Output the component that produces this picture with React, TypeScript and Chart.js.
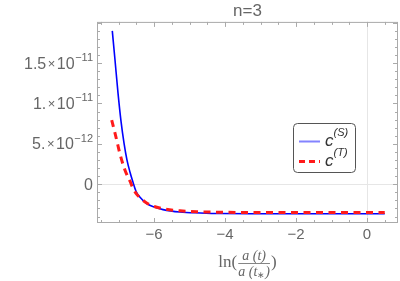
import React, { useEffect, useRef } from 'react';
import { Chart, registerables } from 'chart.js';

Chart.register(...registerables);

const blueX = [-7.175, -7.099, -7.014, -6.93, -6.845, -6.761, -6.676, -6.592, -6.507, -6.394, -6.197, -5.972, -5.746, -5.268, -4.7, -4.14, -3.0, -1.5, 0.5];
const blueY = [18.98e-12, 15.38e-12, 11.29e-12, 7.82e-12, 5.09e-12, 2.98e-12, 1.49e-12, 0.25e-12, -0.87e-12, -1.61e-12, -2.42e-12, -2.85e-12, -3.14e-12, -3.44e-12, -3.56e-12, -3.63e-12, -3.65e-12, -3.66e-12, -3.66e-12];
const redX = [-7.192, -7.127, -7.051, -6.986, -6.91, -6.817, -6.732, -6.676, -6.592, -6.507, -6.394, -6.197, -5.972, -5.746, -5.268, -4.7, -4.14, -3.0, -1.5, 0.5];
const redY = [7.94e-12, 6.82e-12, 5.46e-12, 4.22e-12, 2.98e-12, 1.74e-12, 0.87e-12, 0.37e-12, -0.5e-12, -1.12e-12, -1.67e-12, -2.36e-12, -2.79e-12, -3.04e-12, -3.29e-12, -3.41e-12, -3.47e-12, -3.49e-12, -3.49e-12, -3.49e-12];

const xTicks = [-6, -4, -2, 0];
const yTicks = [0, 5e-12, 1e-11, 1.5e-11];
const yTickMantissa = ['0', '5.', '1.', '1.5'];
const yTickExp = ['', '−12', '−11', '−11'];
const titleText = 'n=3';
const seriesBase = ['c', 'c'];
const seriesSup = ['(S)', '(T)'];

const FONT = '"Liberation Sans", Arial, sans-serif';
const SERIF = '"Liberation Serif", "Times New Roman", serif';
const GRAY = '#666666';
const BLUE = '#0000ff';
const RED = '#ff1a1a';

const decorPlugin = {
  id: 'decor',
  afterDraw(chart: any) {
    const { ctx, chartArea: a, scales } = chart;
    const xs = scales.x;
    const ys = scales.y;
    ctx.save();
    // frame
    ctx.strokeStyle = '#aaaaaa';
    ctx.lineWidth = 1;
    ctx.strokeRect(a.left + 0.5, a.top + 0.5, a.right - a.left - 1, a.bottom - a.top - 1);
    // x ticks (bottom & top)
    ctx.beginPath();
    for (let k = -15; k <= 1; k++) {
      const v = k * 0.5;
      const px = Math.round(xs.getPixelForValue(v)) + 0.5;
      if (px < a.left || px > a.right) continue;
      const len = k % 4 === 0 ? 5 : 3;
      ctx.moveTo(px, a.bottom);
      ctx.lineTo(px, a.bottom - len);
      ctx.moveTo(px, a.top);
      ctx.lineTo(px, a.top + len);
    }
    // y ticks (left & right)
    for (let k = -4; k <= 20; k++) {
      const v = k * 1e-12;
      const py = Math.round(ys.getPixelForValue(v)) + 0.5;
      if (py < a.top || py > a.bottom) continue;
      const len = k % 5 === 0 ? 5 : 3;
      ctx.moveTo(a.left, py);
      ctx.lineTo(a.left + len, py);
      ctx.moveTo(a.right, py);
      ctx.lineTo(a.right - len, py);
    }
    ctx.stroke();

    // y tick labels with superscripts
    ctx.fillStyle = GRAY;
    ctx.textBaseline = 'alphabetic';
    const mainFont = `16px ${FONT}`;
    const timesFont = `13px ${FONT}`;
    const supFont = `11px ${FONT}`;
    for (let i = 0; i < yTicks.length; i++) {
      const py = ys.getPixelForValue(yTicks[i]);
      const base = py + 5.5;
      let xr = a.left - 4;
      if (yTickExp[i]) {
        ctx.font = supFont;
        const we = ctx.measureText(yTickExp[i]).width;
        ctx.fillText(yTickExp[i], xr - we, base - 7.5);
        xr -= we + 0.5;
        ctx.font = mainFont;
        const w10 = ctx.measureText('10').width;
        ctx.fillText('10', xr - w10, base);
        xr -= w10 + 1.5;
        ctx.font = timesFont;
        const wt = ctx.measureText('×').width;
        ctx.fillText('×', xr - wt, base - 1);
        xr -= wt + 1.5;
      }
      ctx.font = mainFont;
      const wm = ctx.measureText(yTickMantissa[i]).width;
      ctx.fillText(yTickMantissa[i], xr - wm, base);
    }

    // x-axis title: ln( a(t) / a(t*) )
    const cx = (a.left + a.right) / 2;
    ctx.fillStyle = GRAY;
    ctx.font = `17px ${SERIF}`;
    const wLn = ctx.measureText('ln(').width;
    const wClose = ctx.measureText(')').width;
    ctx.font = `italic 14px ${SERIF}`;
    const wNum = ctx.measureText('a (t)').width;
    const wDenA = ctx.measureText('a (t').width;
    const wDenB = ctx.measureText(')').width;
    ctx.font = `9px ${SERIF}`;
    const wStar = ctx.measureText('∗').width;
    const wDen = wDenA + wStar + wDenB;
    const wFrac = Math.max(wNum, wDen) + 2;
    const total = wLn + wFrac + wClose;
    let x0 = cx - total / 2;
    const barY = 263.5;
    ctx.font = `17px ${SERIF}`;
    ctx.fillText('ln(', x0, barY + 3);
    x0 += wLn;
    ctx.font = `italic 14px ${SERIF}`;
    ctx.fillText('a (t)', x0 + (wFrac - wNum) / 2, barY - 4);
    const dx = x0 + (wFrac - wDen) / 2;
    ctx.fillText('a (t', dx, barY + 12);
    ctx.font = `9px ${SERIF}`;
    ctx.fillText('∗', dx + wDenA, barY + 14);
    ctx.font = `italic 14px ${SERIF}`;
    ctx.fillText(')', dx + wDenA + wStar, barY + 12);
    ctx.strokeStyle = GRAY;
    ctx.lineWidth = 0.8;
    ctx.beginPath();
    ctx.moveTo(x0 + 1, barY);
    ctx.lineTo(x0 + wFrac - 1, barY);
    ctx.stroke();
    ctx.font = `17px ${SERIF}`;
    ctx.fillText(')', x0 + wFrac, barY + 3);

    // legend
    const lx = 293.5, ly = 123.5, lw = 62, lh = 49;
    ctx.fillStyle = '#ffffff';
    ctx.strokeStyle = '#555555';
    ctx.lineWidth = 1;
    ctx.beginPath();
    (ctx as any).roundRect(lx, ly, lw, lh, 4);
    ctx.fill();
    ctx.stroke();
    const rows = [141.5, 161.5];
    const ds = chart.data.datasets;
    for (let i = 0; i < 2; i++) {
      const y = rows[i];
      ctx.save();
      ctx.strokeStyle = i === 0 ? 'rgba(90,90,255,0.75)' : ds[i].borderColor;
      ctx.lineWidth = i === 0 ? 2 : 3;
      ctx.setLineDash(i === 0 ? [] : [6, 4]);
      ctx.beginPath();
      ctx.moveTo(299, y);
      ctx.lineTo(320, y);
      ctx.stroke();
      ctx.restore();
      ctx.fillStyle = '#333333';
      ctx.font = `italic 17px ${FONT}`;
      ctx.fillText(seriesBase[i], 325, y + 4);
      const wc = ctx.measureText(seriesBase[i]).width;
      ctx.font = `italic 11px ${FONT}`;
      ctx.fillText(seriesSup[i], 325 + wc, y - 6);
    }
    ctx.restore();
  },
};

export default function App() {
  const ref = useRef<HTMLCanvasElement | null>(null);
  useEffect(() => {
    if (!ref.current) return;
    const chart = new Chart(ref.current, {
      type: 'line',
      data: {
        datasets: [
          {
            label: 'c(S)',
            data: blueX.map((x, i) => ({ x, y: blueY[i] })),
            borderColor: BLUE,
            borderWidth: 1.6,
            pointRadius: 0,
            cubicInterpolationMode: 'monotone',
            order: 2,
          },
          {
            label: 'c(T)',
            data: redX.map((x, i) => ({ x, y: redY[i] })),
            borderColor: RED,
            borderWidth: 3,
            borderDash: [7, 5.5],
            pointRadius: 0,
            cubicInterpolationMode: 'monotone',
            order: 1,
          },
        ],
      },
      options: {
        responsive: false,
        animation: false,
        devicePixelRatio: 1,
        layout: { padding: { left: 0, right: 2, top: 0, bottom: 0 } },
        plugins: {
          legend: { display: false },
          tooltip: { enabled: false },
          title: {
            display: true,
            text: titleText,
            fullSize: false,
            color: GRAY,
            font: { family: FONT, size: 17, weight: 'normal' },
            padding: { top: 1.5, bottom: 0 },
          },
        },
        scales: {
          x: {
            type: 'linear',
            min: -7.606,
            max: 0.873,
            afterBuildTicks: (s: any) => {
              s.ticks = xTicks.map((v) => ({ value: v }));
            },
            afterFit: (s: any) => {
              s.height = 58;
            },
            grid: {
              color: (c: any) => (c.tick && c.tick.value === 0 ? '#e6e6e6' : 'rgba(0,0,0,0)'),
              drawTicks: false,
            },
            border: { display: false },
            ticks: {
              color: GRAY,
              font: { family: FONT, size: 15 },
              padding: 3,
              maxRotation: 0,
              autoSkip: false,
              callback: (v: any) => (v === 0 ? '0' : '−' + Math.abs(v)),
            },
          },
          y: {
            type: 'linear',
            min: -4.8e-12,
            max: 2.01e-11,
            afterBuildTicks: (s: any) => {
              s.ticks = yTicks.map((v) => ({ value: v }));
            },
            afterFit: (s: any) => {
              s.width = 97;
            },
            grid: {
              color: (c: any) => (c.tick && c.tick.value === 0 ? '#e6e6e6' : 'rgba(0,0,0,0)'),
              drawTicks: false,
            },
            border: { display: false },
            ticks: { display: false },
          },
        },
      },
      plugins: [decorPlugin],
    } as any);
    return () => chart.destroy();
  }, []);
  return (
    <div style={{ position: 'fixed', left: 0, top: 0, width: 400, height: 281, background: '#fff' }}>
      <canvas ref={ref} width={400} height={281} style={{ display: 'block' }} />
    </div>
  );
}
